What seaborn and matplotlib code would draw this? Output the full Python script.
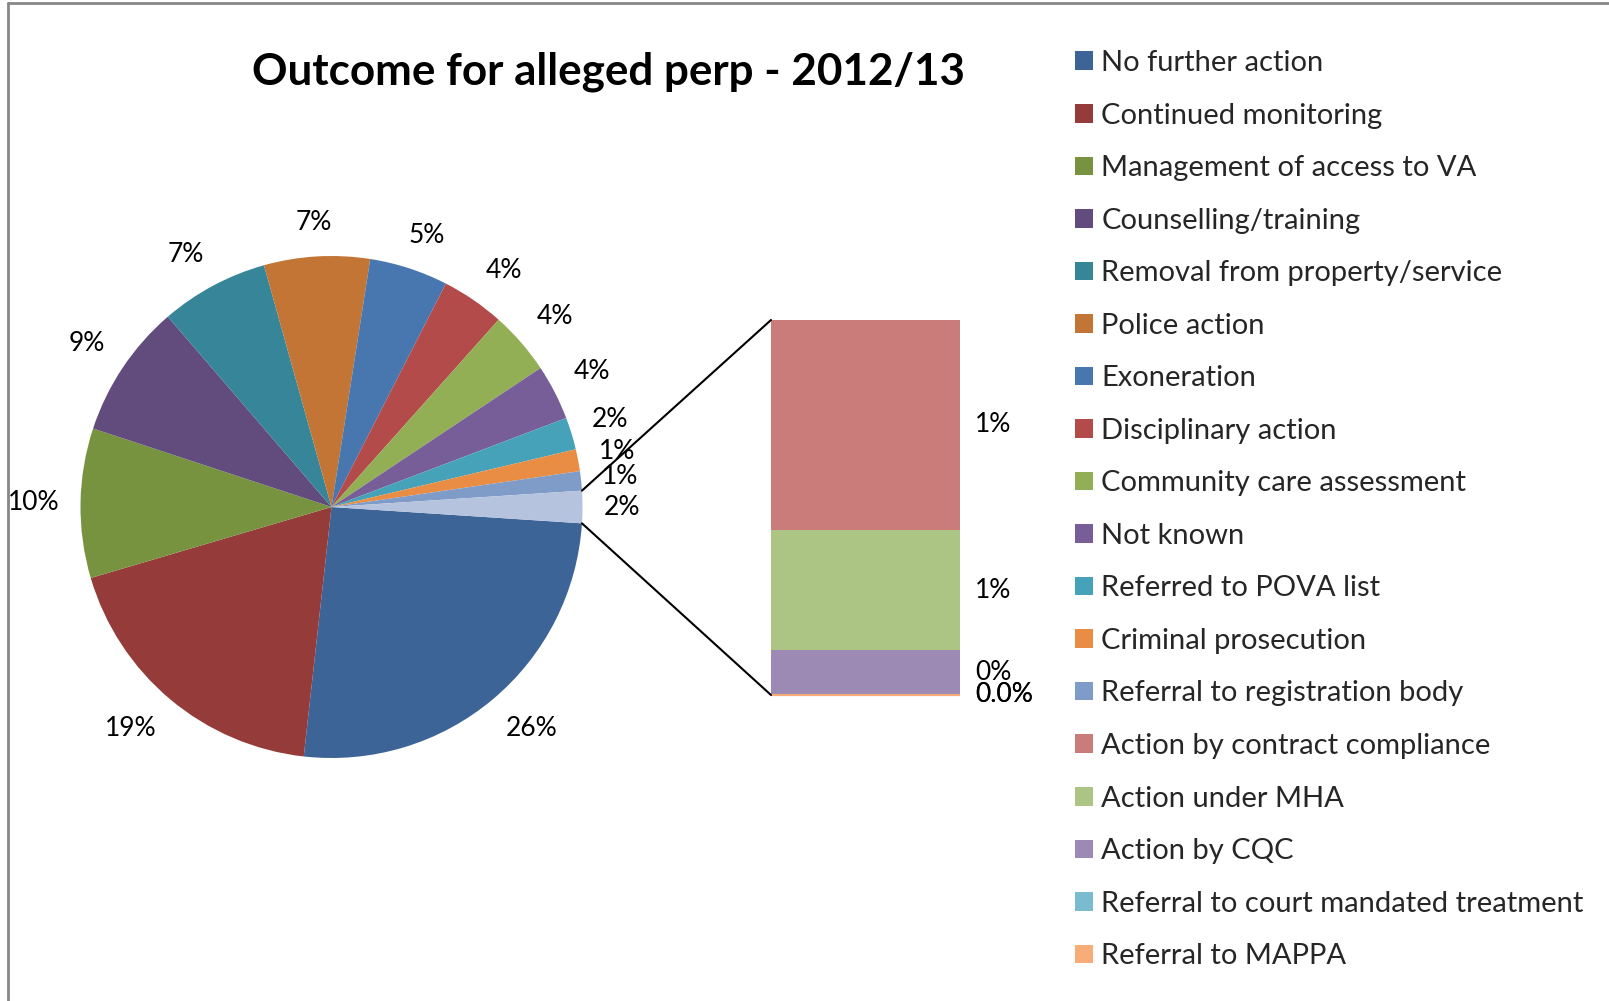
import numpy as np
import matplotlib
matplotlib.use("Agg")
import matplotlib.pyplot as plt
from matplotlib.patches import ConnectionPatch, Patch
from matplotlib.lines import Line2D
import seaborn as sns

# ---- data -------------------------------------------------------------
title = "Outcome for alleged perp - 2012/13"

pie_categories = [
    "No further action",
    "Continued monitoring",
    "Management of access to VA",
    "Counselling/training",
    "Removal from property/service",
    "Police action",
    "Exoneration",
    "Disciplinary action",
    "Community care assessment",
    "Not known",
    "Referred to POVA list",
    "Criminal prosecution",
    "Referral to registration body",
]
pie_counts = [310, 225, 116, 104, 84, 82, 61, 49, 49, 43, 25, 17, 15]

bar_categories = [
    "Action by contract compliance",
    "Action under MHA",
    "Action by CQC",
    "Referral to court mandated treatment",
    "Referral to MAPPA",
]
bar_counts = [14, 8, 3, 0, 0]

# ---- colours ----------------------------------------------------------
pie_colors = ["#3C6496", "#953B3A", "#77933F", "#614C7D", "#378599", "#C27535",
              "#4877AF", "#B34B4A", "#93AF56", "#775E98", "#46A2B9", "#E98D45",
              "#7F9BC8"]
other_color = "#B5C3DE"
bar_colors = ["#CA7C7A", "#ADC584", "#9C89B4", "#7BBBCF", "#F8AD78"]

# ---- style ------------------------------------------------------------
sns.set_theme(style="white")
plt.rcParams["font.family"] = ["Lato", "DejaVu Sans"]

FW, FH = 1609, 1001
fig = plt.figure(figsize=(FW / 100, FH / 100), dpi=100)
fig.patch.set_facecolor("white")

# chart-area frame (top and left edges)
fig.add_artist(Line2D([8 / FW, 8 / FW], [0, 1 - 3 / FH], transform=fig.transFigure,
                      color="#878787", lw=2))
fig.add_artist(Line2D([8 / FW, 1], [1 - 3 / FH, 1 - 3 / FH], transform=fig.transFigure,
                      color="#878787", lw=2))

fig.text(609 / FW, 1 - 72 / FH, title, ha="center", va="center",
         fontsize=31.7, fontweight="bold", color="black")

# ---- primary pie --------------------------------------------------------
total = sum(pie_counts) + sum(bar_counts)
other_total = sum(bar_counts)
pie_values = pie_counts + [other_total]
colors_all = pie_colors + [other_color]

cx, cy, R = 331.5, 507, 251
W = 660
ax_pie = fig.add_axes([(cx - W / 2) / FW, 1 - (cy + W / 2) / FH, W / FW, W / FH])
start = -other_total / total * 180
wedges, _, autotexts = ax_pie.pie(
    pie_values, colors=colors_all, startangle=start, counterclock=False,
    radius=1, autopct=lambda p: f"{p:.0f}%", pctdistance=1.165,
    textprops=dict(fontsize=19, color="black"),
    wedgeprops=dict(linewidth=0),
)
lim = W / 2 / R
ax_pie.set_xlim(-lim, lim)
ax_pie.set_ylim(-lim, lim)
ax_pie.set_aspect("equal")
ax_pie.axis("off")

# place each percentage just outside the rim, its box corner facing the slice
fig.canvas.draw()
renderer = fig.canvas.get_renderer()
gap = 1.084  # label anchor radius relative to the pie radius
for w, t in zip(wedges, autotexts):
    mid = np.deg2rad((w.theta1 + w.theta2) / 2)
    ux, uy = np.cos(mid), np.sin(mid)
    bb = t.get_window_extent(renderer)
    hw, hh = bb.width / 2 / R, bb.height / 2 / R
    fx, fy = np.clip(2 * ux, -1, 1), np.clip(2 * uy, -1, 1)
    t.set_position((gap * ux + hw * fx, gap * uy + hh * fy))

# ---- secondary stacked bar ---------------------------------------------
bx0, bx1, by0, by1 = 771, 960, 320, 695
ax_bar = fig.add_axes([bx0 / FW, 1 - by1 / FH, (bx1 - bx0) / FW, (by1 - by0) / FH])
ax_bar.set_xlim(0, 1)
ax_bar.set_ylim(0, other_total)
ax_bar.axis("off")

top = other_total
for name, v, c in zip(bar_categories, bar_counts, bar_colors):
    bottom = top - v
    ax_bar.bar(0.5, v, width=1.0, bottom=bottom, color=c,
               edgecolor=c, linewidth=1.5 if v == 0 else 0, clip_on=False)
    label = f"{v / total * 100:.0f}%" if v else "0.0%"
    ax_bar.annotate(label, xy=(1, bottom + v / 2), xytext=(11, 0),
                    textcoords="offset points", ha="left", va="center",
                    fontsize=19, color="black", annotation_clip=False)
    top = bottom

# connector lines from the "other" slice to the bar
ow = wedges[-1]
t_hi, t_lo = np.deg2rad(ow.theta2), np.deg2rad(ow.theta1)
for t, yb in ((t_hi, other_total), (t_lo, 0)):
    con = ConnectionPatch(xyA=(np.cos(t), np.sin(t)), coordsA=ax_pie.transData,
                          xyB=(0, yb), coordsB=ax_bar.transData,
                          color="black", lw=1.5)
    fig.add_artist(con)

# ---- legend -------------------------------------------------------------
handles = [Patch(facecolor=c, edgecolor="none") for c in pie_colors + bar_colors]
labels = pie_categories + bar_categories
fig.legend(handles, labels, loc="upper left",
           bbox_to_anchor=(1075 / FW, 1 - 50 / FH),
           frameon=False, fontsize=21, handlelength=0.6, handleheight=0.6,
           handletextpad=0.3, labelspacing=0.91, borderpad=0, borderaxespad=0)

fig.savefig("out.png", dpi=100, facecolor="white")
